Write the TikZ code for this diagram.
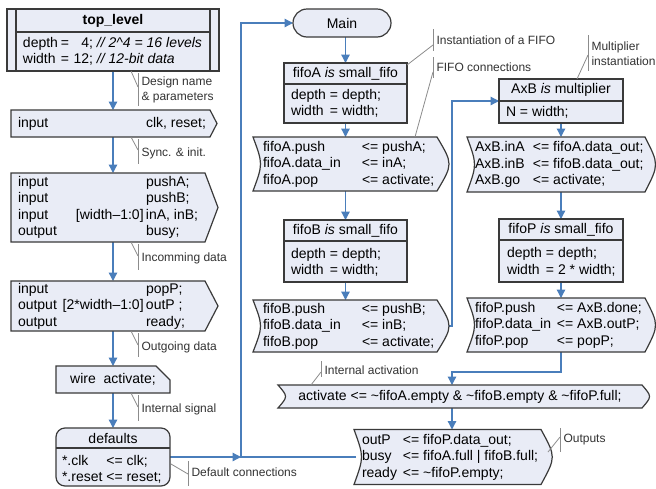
\documentclass[tikz,border=0pt]{standalone}
\usepackage{fontspec}
\setmainfont{Liberation Sans}
\usetikzlibrary{arrows.meta,calc}
\definecolor{boxfill}{HTML}{E9ECF6}
\definecolor{boxline}{HTML}{3A3A3A}
\definecolor{flowblue}{HTML}{4A7EBB}
\definecolor{notegray}{HTML}{8C8C8C}
\tikzset{
  frame/.style 2 args={inner sep=0pt,outer sep=0pt,minimum width=#1pt,minimum height=#2pt},
  shp/.style={draw=boxline,fill=boxfill,line width=1.2pt,line join=miter},
  sep/.style={draw=boxline,line width=1.2pt},
  txt/.style={inner sep=0pt,outer sep=0pt,font=\fontsize{14}{16.5}\selectfont,align=left,text=black},
  note/.style={inner sep=0pt,outer sep=0pt,font=\fontsize{12}{15}\selectfont,align=left,text=black!80},
  noteline/.style={draw=notegray,line width=0.8pt},
  flow/.style={draw=flowblue,line width=1.3pt,-{Triangle[width=8.5pt,length=8.5pt]}},
}
% callout: name, bar x, bar top, bar bottom, leader start, leader y on bar, text y, text
\newcommand\calloutnote[8]{%
  \draw[noteline] (#2,#3) -- (#2,#4);
  \draw[noteline] #5 -- (#2,#6);
  \node[note,anchor=west] (#1) at (#2+3.5,#7) {#8};
}
\begin{document}
\begin{tikzpicture}[x=1pt,y=-1pt]
\fill[white] (0,0) rectangle (656,488);
\useasboundingbox (0,0) rectangle (656,488);

% ---- anchor frames of the boxes ----
\node[frame={212}{62}] (top) at (113,40) {};
\node[frame={204}{27}] (clk) at (113,123.5) {};
\node[frame={204}{69}] (push) at (113,207.5) {};
\node[frame={204}{50}] (popp) at (113,306) {};
\node[frame={114}{27}] (wire) at (113,379.5) {};
\node[frame={114}{58}] (defaults) at (113,457) {};
\node[frame={98}{28}] (main) at (342,23) {};
\node[frame={123}{60}] (fifoa) at (345.5,93) {};
\node[frame={184}{54}] (fifoac) at (345.5,164) {};
\node[frame={123}{62}] (fifob) at (345.5,251) {};
\node[frame={184}{52}] (fifobc) at (345.5,326) {};
\node[frame={124}{44}] (axb) at (561,101) {};
\node[frame={178}{55}] (axbc) at (556,164.5) {};
\node[frame={124}{63}] (fifop) at (561,250.5) {};
\node[frame={178}{54}] (fifopc) at (556,325) {};
\node[frame={364}{23}] (act) at (460,396.5) {};
\node[frame={192}{55}] (outp) at (452,457) {};

% ---- connectors ----
\draw[flow] (top.south) -- (clk.north);
\draw[flow] (clk.south) -- (push.north);
\draw[flow] (push.south) -- (popp.north);
\draw[flow] (popp.south) -- (wire.north);
\draw[flow] (wire.south) -- (defaults.north);
\coordinate (jn) at (241,457);
\draw[flow] (defaults.east) -- (jn);
\draw[flow] (outp.west) -- (jn) |- (main.west);
\draw[flow] (main.south -| fifoa.north) -- (fifoa.north);
\draw[flow] (fifoa.south) -- (fifoac.north);
\draw[flow] (fifoac.south) -- (fifob.north);
\draw[flow] (fifob.south) -- (fifobc.north);
\coordinate (fbturn) at (452,326);
\draw[flow] (fifobc.east) -- (fbturn) |- (axb.west);
\draw[flow] (axb.south) -- (axb.south |- axbc.north);
\draw[flow] (axb.south |- axbc.south) -- (fifop.north);
\draw[flow] (fifop.south) -- (fifop.south |- fifopc.north);
\coordinate (pbend) at (561,372);
\draw[flow] (pbend |- fifopc.south) -- (pbend) -| (outp.north |- act.north);
\draw[flow] (outp.north |- act.south) -- (outp.north);

% ---- shapes ----
% module header (predefined process)
\path[shp] (7,9) rectangle (219,71);
\draw[sep] (16,9) -- (16,71) (210,9) -- (210,71) (16,32) -- (210,32);
% port declarations
\path[shp] (11,110) -- (210,110) -- (217,123.5) -- (210,137) -- (11,137) -- cycle;
\path[shp] (11,173) -- (205,173) -- (218,207.5) -- (205,242) -- (11,242) -- cycle;
\path[shp] (11,281) -- (205,281) -- (218,306) -- (205,331) -- (11,331) -- cycle;
% wire declaration (card)
\path[shp] (56,366) -- (156,366) -- (170,380) -- (170,393) -- (56,393) -- cycle;
% defaults
\path[shp,rounded corners=9pt] (56,428) rectangle (170,486);
\draw[sep] (56,448) -- (170,448);
% Main terminator
\path[shp,rounded corners=14pt] (293,9) rectangle (391,37);
% instances
\path[shp] (284,63) rectangle (407,123);
\draw[sep] (284,84) -- (407,84);
\path[shp] (284,220) rectangle (407,282);
\draw[sep] (284,241) -- (407,241);
\path[shp] (499,79) rectangle (623,123);
\draw[sep] (499,101) -- (623,101);
\path[shp] (499,219) rectangle (623,282);
\draw[sep] (499,240) -- (623,240);
% connection blocks
\path[shp] (253,137) -- (437,137) .. controls (453,164) .. (437,191) -- (253,191) .. controls (263,164) .. (253,137) -- cycle;
\path[shp] (253,300) -- (437,300) .. controls (453,326) .. (437,352) -- (253,352) .. controls (263,326) .. (253,300) -- cycle;
\path[shp] (467,137) -- (645,137) .. controls (659,164.5) .. (645,192) -- (467,192) .. controls (477,164.5) .. (467,137) -- cycle;
\path[shp] (467,298) -- (645,298) .. controls (659,325) .. (645,352) -- (467,352) .. controls (477,325) .. (467,298) -- cycle;
\path[shp] (278,385) -- (642,385) .. controls (652,396.5) .. (642,408) -- (278,408) .. controls (288,396.5) .. (278,385) -- cycle;
\path[shp] (354,429.5) -- (541,429.5) .. controls (556,457) .. (541,484.5) -- (354,484.5) .. controls (364,457) .. (354,429.5) -- cycle;

% ---- texts ----
\node[txt,font=\fontsize{14}{16.5}\selectfont\bfseries] (top-h) at (113,20.5) {top\_level};
\node[txt,anchor=west] (top-b) at (23,51.5) {\makebox[38pt][l]{depth}= \makebox[20pt][r]{4;} \textit{// 2\textasciicircum 4 = 16 levels}\\
  \makebox[38pt][l]{width}= \makebox[20pt][r]{12;} \textit{// 12-bit data}};
\node[txt,anchor=west] (clk-t) at (18,123.5) {\makebox[128pt][l]{input}clk, reset;};
\node[txt,anchor=west] (push-t) at (18,207.5) {\makebox[128pt][l]{input}pushA;\\
  \makebox[128pt][l]{input}pushB;\\
  \makebox[128pt][l]{input\hfill[width–1:0]\,}inA, inB;\\
  \makebox[128pt][l]{output}busy;};
\node[txt,anchor=west] (popp-t) at (18,306) {\makebox[128pt][l]{input}popP;\\
  \makebox[128pt][l]{output\hfill[2*width–1:0]\,}outP ;\\
  \makebox[128pt][l]{output}ready;};
\node[txt] (wire-t) at (113,379.5) {wire\ \ activate;};
\node[txt] (def-h) at (113,438) {defaults};
\node[txt,anchor=west] (def-b) at (62,469.5) {\makebox[44.5pt][l]{*.clk}<= clk;\\{*}.reset <= reset;};
\node[txt] (main-t) at (342,23) {Main};
\node[txt] (fifoa-h) at (345.5,73.5) {fifoA \textit{is} small\_fifo};
\node[txt,anchor=west] (fifoa-b) at (291,103.5) {\makebox[39pt][l]{depth}= depth;\\\makebox[39pt][l]{width}= width;};
\node[txt,anchor=west] (fifoac-t) at (263,164) {\makebox[99pt][l]{fifoA.push}<= pushA;\\
  \makebox[99pt][l]{fifoA.data\_in}<= inA;\\
  \makebox[99pt][l]{fifoA.pop}<= activate;};
\node[txt] (fifob-h) at (345.5,230.5) {fifoB \textit{is} small\_fifo};
\node[txt,anchor=west] (fifob-b) at (291,262.5) {\makebox[39pt][l]{depth}= depth;\\\makebox[39pt][l]{width}= width;};
\node[txt,anchor=west] (fifobc-t) at (263,326) {\makebox[99pt][l]{fifoB.push}<= pushB;\\
  \makebox[99pt][l]{fifoB.data\_in}<= inB;\\
  \makebox[99pt][l]{fifoB.pop}<= activate;};
\node[txt] (axb-h) at (561,90) {AxB \textit{is} multiplier};
\node[txt,anchor=west] (axb-b) at (506,112) {N = width;};
\node[txt,anchor=west] (axbc-t) at (475,164.5) {\makebox[58pt][l]{AxB.inA}<= fifoA.data\_out;\\
  \makebox[58pt][l]{AxB.inB}<= fifoB.data\_out;\\
  \makebox[58pt][l]{AxB.go}<= activate;};
\node[txt] (fifop-h) at (561,229.5) {fifoP \textit{is} small\_fifo};
\node[txt,anchor=west] (fifop-b) at (507,262) {\makebox[39pt][l]{depth}= depth;\\\makebox[39pt][l]{width}= 2 * width;};
\node[txt,anchor=west] (fifopc-t) at (475,325) {\makebox[82pt][l]{fifoP.push}<= AxB.done;\\
  \makebox[82pt][l]{fifoP.data\_in}<= AxB.outP;\\
  \makebox[82pt][l]{fifoP.pop}<= popP;};
\node[txt] (act-t) at (460,396.5) {activate <= \textasciitilde fifoA.empty \& \textasciitilde fifoB.empty \& \textasciitilde fifoP.full;};
\node[txt,anchor=west] (outp-t) at (362,457) {\makebox[41pt][l]{outP}<= fifoP.data\_out;\\
  \makebox[41pt][l]{busy}<= fifoA.full | fifoB.full;\\
  \makebox[41pt][l]{ready}<= \textasciitilde fifoP.empty;};

% ---- callouts ----
\calloutnote{n-design}{138}{73}{106}{(131,71)}{87}{89.5}{Design name\\\& parameters}
\calloutnote{n-sync}{138}{139}{164}{(131,137)}{150}{153}{Sync. \& init.}
\calloutnote{n-in}{138}{244}{270}{(131,242)}{256}{258}{Incomming data}
\calloutnote{n-out}{138}{333}{357}{(131,331)}{345}{347}{Outgoing data}
\calloutnote{n-sig}{138}{395}{421}{(131,393)}{407}{409}{Internal signal}
\calloutnote{n-def}{188}{461}{486}{(171,464)}{474}{472}{Default connections}
\calloutnote{n-inst}{433}{29}{51}{(407,65)}{45}{40}{Instantiation of a FIFO}
\calloutnote{n-conn}{433}{57}{78}{(415,137)}{72}{67}{FIFO connections}
\calloutnote{n-mult}{588}{35}{71}{(577,79)}{55}{53.5}{Multiplier\\instantiation}
\calloutnote{n-act}{321}{361}{377}{(311,385)}{372}{370}{Internal activation}
\calloutnote{n-outs}{560}{428}{452}{(548,452)}{437}{440}{Outputs}
\end{tikzpicture}
\end{document}
